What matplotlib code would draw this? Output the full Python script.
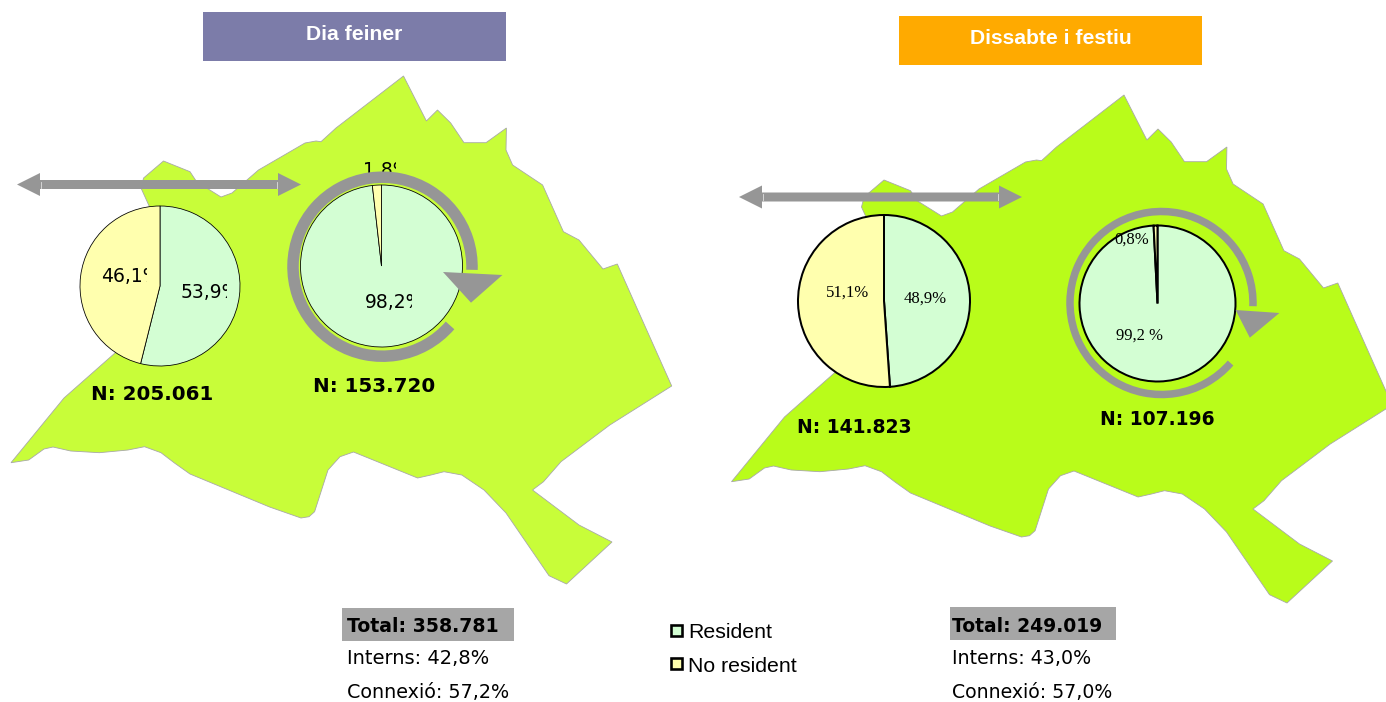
import matplotlib
matplotlib.use("Agg")
import matplotlib.pyplot as plt
from matplotlib.patches import Polygon, Rectangle, Arc
from matplotlib.transforms import Bbox, TransformedBbox

# values
labels = ["Resident", "No resident"]
pie_weekday_ext = [53.9, 46.1]
pie_weekday_int = [98.2, 1.8]
pie_holiday_ext = [48.9, 51.1]
pie_holiday_int = [99.2, 0.8]

RES = "#D3FED3"
NORES = "#FFFFAE"
GREY = "#969696"
PX = 0.72  # px -> pt at dpi 100

# shape of the territory, in picture pixels
map_x = [403.5, 426.4, 437.5, 450.7, 464, 486, 506.4, 506, 512.6, 542.6, 563.4, 579, 603, 617.3, 636.3, 671.7,
         609.8, 561, 543.5, 532.5, 579, 612, 566.5, 549, 506, 484, 461.8, 444, 431, 417.6, 353.5, 340, 328,
         314.6, 309, 301, 269.6, 190, 174.5, 161, 144.5, 128, 99.4, 70.7, 53, 44, 28.7, 11, 64, 115, 160,
         141, 143.6, 163.5, 190, 196.6, 221, 232, 258.5, 305, 316, 321, 336]
map_y = [76, 121, 110, 123, 142.7, 142.7, 128, 150, 165, 185, 231.7, 240, 269, 264, 306.7, 386,
         425, 461.7, 481.7, 490, 525, 542, 584, 575.7, 513, 490, 475, 471.7, 475, 478, 452, 456.7, 470,
         511.7, 516.7, 518, 507, 474, 463, 452.7, 446.7, 450, 452.7, 451, 447, 449, 460, 462.7, 398, 353, 230,
         188, 178, 161, 171.7, 181.7, 197, 193, 170, 143, 141, 141.7, 128]


def draw_pie(ax, values, center, radius, lw):
    # y axis is inverted, so start at -90 and go "counterclock" to get clockwise from the top
    ax.pie(values, colors=[RES, NORES], center=center, radius=radius, startangle=-90, counterclock=True,
           wedgeprops={"edgecolor": "black", "linewidth": lw * PX, "zorder": 3})


def double_arrow(ax, x0, x1, y, z=5):
    head = 23
    pts = [(x0, y), (x0 + head, y - 11.5), (x0 + head, y - 4.5), (x1 - head, y - 4.5), (x1 - head, y - 11.5),
           (x1, y), (x1 - head, y + 11.5), (x1 - head, y + 4.5), (x0 + head, y + 4.5), (x0 + head, y + 11.5)]
    ax.add_patch(Polygon(pts, closed=True, facecolor=GREY, edgecolor="none", zorder=z))
    ax.plot([x0 + head + 1, x0 + head + 1], [y - 3, y + 3], color="white", lw=0.6, alpha=0.7, zorder=6)
    ax.plot([x1 - head - 1, x1 - head - 1], [y - 3, y + 3], color="white", lw=0.6, alpha=0.7, zorder=6)


def ring_arrow(ax, cx, cy, r, lw, tip):
    ax.add_patch(Arc((cx, cy), 2 * r, 2 * r, theta1=41, theta2=362, color=GREY, lw=lw * PX, zorder=5))
    ax.add_patch(Polygon(tip, closed=True, facecolor=GREY, edgecolor="none", zorder=6))


def clipped_text(ax, x, y, s, xmax, size, z=4):
    t = ax.text(x, y, s, ha="left", va="center", fontsize=size, family="DejaVu Sans", zorder=z)
    t.set_clip_on(True)
    t.set_clip_box(TransformedBbox(Bbox([[x - 5, y - 30], [xmax, y + 30]]), ax.transData))
    return t


def main():
    fig = plt.figure(figsize=(13.86, 7.02), dpi=100)
    ax = fig.add_axes([0, 0, 1, 1])

    # maps
    ax.add_patch(Polygon(list(zip(map_x, map_y)), closed=True, facecolor="#C8FD39", edgecolor="#A8A8A8",
                         lw=0.6, zorder=1))
    ax.add_patch(Polygon([(x + 720.5, y + 19) for x, y in zip(map_x, map_y)], closed=True, facecolor="#B9FC1A",
                         edgecolor="#A8A8A8", lw=0.6, zorder=1))

    # pies
    draw_pie(ax, pie_weekday_ext, (160, 286), 80, 0.8)
    draw_pie(ax, pie_weekday_int, (381.5, 266), 81, 0.8)
    draw_pie(ax, pie_holiday_ext, (884, 301), 86, 2)
    draw_pie(ax, pie_holiday_int, (1157.5, 303.5), 78, 2)

    ax.set_xlim(0, 1386)
    ax.set_ylim(702, 0)
    ax.set_aspect("auto")
    ax.axis("off")

    # headers
    ax.add_patch(Rectangle((203, 12), 303, 49, facecolor="#7C7CA9", edgecolor="none", zorder=2))
    ax.add_patch(Rectangle((899, 16), 303, 49, facecolor="#FFAA00", edgecolor="none", zorder=2))
    ax.text(354, 34, "Dia feiner", color="white", fontsize=15.2, fontweight="bold", family="Liberation Sans",
            ha="center", va="center", zorder=3)
    ax.text(1050.5, 38, "Dissabte i festiu", color="white", fontsize=15.2, fontweight="bold",
            family="Liberation Sans", ha="center", va="center", zorder=3)

    # arrows
    double_arrow(ax, 17, 301, 184.5)
    double_arrow(ax, 739, 1022, 197)
    ring_arrow(ax, 382.5, 266.7, 89.5, 11.5, [(443, 272), (502.4, 275), (471, 302.7)])
    ring_arrow(ax, 1161.5, 303, 91.5, 7.5, [(1235.6, 310), (1279.4, 313), (1249.8, 337.7)])

    # pie labels, the first panel's are cut off as in the original
    clipped_text(ax, 101, 276, "46,1%", 147, 13.5)
    clipped_text(ax, 180.5, 292, "53,9%", 227, 13.5)
    clipped_text(ax, 365, 302.5, "98,2%", 412, 13.5)
    clipped_text(ax, 363, 170, "1,8%", 396, 13.5, z=2.5)
    for x, y, s in [(848, 293, "51,1%"), (925, 299, "48,9%"), (1132, 240, "0,8%"), (1139, 336, "99,2 %")]:
        ax.text(x, y, s, ha="center", va="center", fontsize=12, family="Liberation Serif", zorder=7)

    # N labels
    for x, y, s in [(91, 395, "N: 205.061"), (313, 387, "N: 153.720"), (797, 427.5, "N: 141.823"),
                    (1100, 419.5, "N: 107.196")]:
        size = 14.3 if x < 693 else 13.5
        ax.text(x, y, s, ha="left", va="center", fontsize=size, fontweight="bold", family="DejaVu Sans", zorder=7)

    # totals
    ax.add_patch(Rectangle((342, 608), 172, 33, facecolor="#A6A6A6", edgecolor="none", zorder=2))
    ax.add_patch(Rectangle((950, 607), 166, 33, facecolor="#A6A6A6", edgecolor="none", zorder=2))
    ax.text(347, 626, "Total: 358.781", fontsize=13.6, fontweight="bold", family="DejaVu Sans", va="center", zorder=3)
    ax.text(347, 659, "Interns: 42,8%", fontsize=14, family="DejaVu Sans", va="center", zorder=3)
    ax.text(347, 693, "Connexió: 57,2%", fontsize=13.8, family="DejaVu Sans", va="center", zorder=3)
    ax.text(952, 626, "Total: 249.019", fontsize=13.5, fontweight="bold", family="DejaVu Sans", va="center", zorder=3)
    ax.text(952, 658, "Interns: 43,0%", fontsize=13.7, family="DejaVu Sans", va="center", zorder=3)
    ax.text(952, 692, "Connexió: 57,0%", fontsize=13.6, family="DejaVu Sans", va="center", zorder=3)

    # legend
    for y, col, lab in [(625, RES, labels[0]), (658, NORES, labels[1])]:
        ax.add_patch(Rectangle((671, y), 10.5, 11, facecolor=col, edgecolor="black", lw=2.6 * PX, zorder=3))
        ax.text(688, y + 8, lab, fontsize=15.3, family="Liberation Sans", va="center", zorder=3)

    fig.savefig("out.png", dpi=100)


if __name__ == "__main__":
    main()
